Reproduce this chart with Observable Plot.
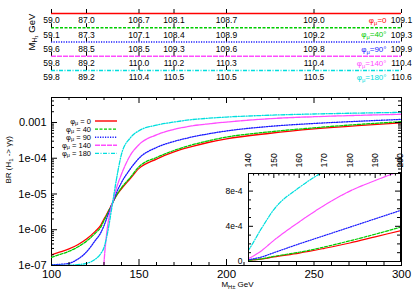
<!DOCTYPE html>
<html><head><meta charset="utf-8">
<script src="https://cdn.jsdelivr.net/npm/d3@7"></script>
<script src="https://cdn.jsdelivr.net/npm/@observablehq/plot@0.6"></script>
<style>
body{margin:0;background:#fff;}
#c{position:relative;width:414px;height:290px;font-family:"Liberation Sans",Arial,sans-serif;overflow:hidden;background:#fff;}
#c svg{position:absolute;left:0;}
</style></head><body><div id="c"></div>
<script>
// ---------- data ----------
const phiValues = ["0", "40", "90", "140", "180"];
// top panel: M_H1 (GeV) at these M_H± (GeV)
const topMasses = [100, 120, 150, 170, 200, 250, 300];
const mH1_phi0   = [59.0, 87.0, 106.7, 108.1, 108.7, 109.0, 109.1];
const mH1_phi40  = [59.1, 87.3, 107.1, 108.4, 108.9, 109.2, 109.3];
const mH1_phi90  = [59.6, 88.5, 108.5, 109.3, 109.6, 109.8, 109.9];
const mH1_phi140 = [59.8, 89.2, 110.0, 110.2, 110.3, 110.4, 110.4];
const mH1_phi180 = [59.8, 89.2, 110.4, 110.5, 110.5, 110.5, 110.6];

// main panel: BR(H1 -> gamma gamma) vs M_H±
const mass = [100,105,110,115,120,125,128,130,131,132,133,134,135,137,140,145,150,160,170,180,190,200,225,250,275,300];
const br_phi0   = [2.0e-7,2.4e-7,2.9e-7,3.8e-7,5.5e-7,9.0e-7,1.3e-6,2.0e-6,2.4e-6,3.0e-6,3.7e-6,4.6e-6,5.8e-6,8.8e-6,1.4e-5,2.7e-5,5.2e-5,9.5e-5,1.5e-4,2.1e-4,2.8e-4,3.5e-4,5.0e-4,6.6e-4,8.2e-4,9.8e-4];
const br_phi40  = [1.7e-7,2.05e-7,2.5e-7,3.3e-7,4.8e-7,8.0e-7,1.15e-6,1.8e-6,2.25e-6,2.8e-6,3.6e-6,4.5e-6,5.8e-6,9.0e-6,1.5e-5,2.9e-5,5.8e-5,1.05e-4,1.65e-4,2.35e-4,3.1e-4,3.9e-4,5.5e-4,7.1e-4,8.8e-4,1.05e-3];
const br_phi90  = [1.05e-7,1.08e-7,1.15e-7,1.5e-7,2.4e-7,5.0e-7,8.0e-7,1.3e-6,1.75e-6,2.4e-6,3.2e-6,4.3e-6,5.8e-6,1.05e-5,2.1e-5,5.0e-5,1.0e-4,2.0e-4,2.95e-4,3.9e-4,4.85e-4,5.8e-4,7.8e-4,9.4e-4,1.08e-3,1.22e-3];
const br_phi140 = [NaN,NaN,NaN,NaN,NaN,NaN,1e-9,1.2e-7,4.5e-7,1.2e-6,2.4e-6,4.0e-6,6.0e-6,1.4e-5,3.6e-5,1.2e-4,2.4e-4,4.5e-4,6.4e-4,8.0e-4,9.2e-4,1.03e-3,1.28e-3,1.45e-3,1.58e-3,1.7e-3];
const br_phi180 = [1.0e-7,1.0e-7,1.02e-7,1.06e-7,1.15e-7,1.5e-7,2.1e-7,3.2e-7,4.8e-7,8e-7,1.5e-6,3e-6,6e-6,2.4e-5,1.3e-4,3.7e-4,5.9e-4,8.4e-4,1.03e-3,1.2e-3,1.32e-3,1.42e-3,1.6e-3,1.73e-3,1.83e-3,1.92e-3];

// tick values / labels
const xMajor = [100, 150, 200, 250, 300];
const yMajor = [1e-7, 1e-6, 1e-5, 1e-4, 1e-3];
const yLabels = ["1e-07", "1e-06", "1e-05", "1e-04", "0.001"];
const insetXTicks = [140, 150, 160, 170, 180, 190, 200];
const insetYTicks = [0, 4e-4, 8e-4];
const insetYLabels = ["0", "4e-4", "8e-4"];

// ---------- styles ----------
const colors = ["#ff0000", "#00cc00", "#1a1aff", "#ff4dff", "#00dede"];
const dashes = ["none", "3,1.5", "1.2,1.3", "5,1", "4,1.5,1,1.5"];
const FONT = '"Liberation Sans", Arial, sans-serif';

const mH1 = [mH1_phi0, mH1_phi40, mH1_phi90, mH1_phi140, mH1_phi180];
const brs = [br_phi0, br_phi40, br_phi90, br_phi140, br_phi180];

const NS = "http://www.w3.org/2000/svg";
const c = document.getElementById("c");
function place(svg, top) { svg.style.top = top + "px"; c.appendChild(svg); }
// turn "a_{bc}d" / "a_bd" into tspans with subscripts
function subify(svg) {
  svg.querySelectorAll("text").forEach(t => {
    const s = t.textContent; if (s.indexOf("_") < 0) return;
    const fs = parseFloat(t.getAttribute("font-size") || t.parentNode.getAttribute("font-size") || 8);
    const parts = [];
    let i = 0, buf = "";
    while (i < s.length) {
      if (s[i] === "_") {
        if (buf) parts.push([buf, false]); buf = "";
        if (s[i + 1] === "{") { const j = s.indexOf("}", i); parts.push([s.slice(i + 2, j), true]); i = j + 1; }
        else { parts.push([s[i + 1], true]); i += 2; }
      } else { buf += s[i]; i++; }
    }
    if (buf) parts.push([buf, false]);
    t.textContent = "";
    let shifted = false;
    const sh = fs * 0.25;
    parts.forEach(([str, sub]) => {
      const sp = document.createElementNS(NS, "tspan");
      sp.textContent = str;
      if (sub && !shifted) { sp.setAttribute("dy", sh); shifted = true; }
      if (!sub && shifted) { sp.setAttribute("dy", -sh); shifted = false; }
      if (sub) sp.setAttribute("font-size", fs * 0.72);
      t.appendChild(sp);
    });
  });
}

// ---------- top panel ----------
{
  const marks = [];
  phiValues.forEach((p, i) => {
    const rows = topMasses.map((m, j) => ({m, v: mH1[i][j], row: i}));
    marks.push(Plot.ruleY([i], {y: d => d, x1: 100, x2: 300, stroke: colors[i], strokeWidth: 1.5, strokeDasharray: dashes[i]}));
    marks.push(Plot.ruleX(rows, {x: "m", y1: "row", y2: "row", insetTop: -4, stroke: "#000", strokeWidth: 1}));
    marks.push(Plot.text(rows, {x: "m", y: d => d.row + 0.5, text: d => d.v.toFixed(1), fontSize: 8.5, fill: "#000"}));
    marks.push(Plot.text([{m: 300, row: i, t: "φ_μ=" + p + (p === "0" ? "" : "°")}], {x: "m", y: d => d.row + 0.5, text: "t", dx: -15, textAnchor: "end", fontSize: 8, fill: colors[i]}));
  });
  marks.push(Plot.text(["M_{H₁} GeV"], {text: d => d, frameAnchor: "left", rotate: -90, textAnchor: "start", dx: -20, dy: 4.5, fontSize: 9.5, fill: "#000"}));
  const svg = Plot.plot({
    width: 414, height: 90, marginLeft: 51, marginRight: 13, marginTop: 13, marginBottom: 12,
    x: {domain: [100, 300], axis: null},
    y: {domain: [0, 4], range: [13, 70], axis: null},
    style: {background: "transparent", fontFamily: FONT, overflow: "visible"},
    marks
  });
  subify(svg);
  place(svg, 0);
}

// ---------- main panel ----------
{
  const xMinor = d3.range(110, 300, 10).filter(v => v % 50 !== 0);
  const yMinor = [];
  [1e-7, 1e-6, 1e-5, 1e-4, 1e-3].forEach(d => { for (let m = 2; m <= 9; m++) if (d * m <= 5e-3) yMinor.push(d * m); });
  const marks = [Plot.frame({stroke: "#000"})];
  phiValues.forEach((p, i) => {
    const rows = mass.map((m, j) => ({m, br: brs[i][j]}));
    marks.push(Plot.line(rows, {x: "m", y: "br", stroke: colors[i], strokeWidth: 1.3, strokeDasharray: dashes[i], curve: "monotone-x", clip: true}));
  });
  marks.push(
    Plot.ruleX(xMajor, {x: d => d, y1: 1e-7, y2: 1e-7, insetTop: -6, stroke: "#000"}),
    Plot.ruleX(xMinor, {x: d => d, y1: 1e-7, y2: 1e-7, insetTop: -3, stroke: "#000"}),
    Plot.ruleX(xMajor, {x: d => d, y1: 5e-3, y2: 5e-3, insetBottom: -6, stroke: "#000"}),
    Plot.ruleX(xMinor, {x: d => d, y1: 5e-3, y2: 5e-3, insetBottom: -3, stroke: "#000"}),
    Plot.ruleY(yMajor, {y: d => d, x1: 100, x2: 100, insetRight: -6, stroke: "#000"}),
    Plot.ruleY(yMinor, {y: d => d, x1: 100, x2: 100, insetRight: -3, stroke: "#000"}),
    Plot.ruleY(yMajor, {y: d => d, x1: 300, x2: 300, insetLeft: -6, stroke: "#000"}),
    Plot.ruleY(yMinor, {y: d => d, x1: 300, x2: 300, insetLeft: -3, stroke: "#000"}),
    Plot.text(xMajor, {x: d => d, y: 1e-7, dy: 9, text: d => String(d), fontSize: 11.5, fill: "#000"}),
    Plot.text(yMajor, {x: 100, y: d => d, dx: -5, textAnchor: "end", text: (d, i) => yLabels[i], fontSize: 11, fill: "#000"}),
    Plot.text(["BR (H_1 -> γγ)"], {text: d => d, frameAnchor: "left", rotate: -90, dx: -43, dy: 2, fontSize: 8, fill: "#000"}),
    Plot.text(["M_{H±} GeV"], {text: d => d, frameAnchor: "bottom", dx: 11, dy: 21, fontSize: 8, fill: "#000"})
  );
  const svg = Plot.plot({
    width: 414, height: 202, marginLeft: 51, marginRight: 13, marginTop: 9, marginBottom: 25,
    x: {domain: [100, 300], axis: null},
    y: {type: "log", domain: [1e-7, 5e-3], axis: null},
    style: {background: "transparent", fontFamily: FONT, overflow: "visible"},
    marks
  });
  subify(svg);
  place(svg, 88);
}

// ---------- inset ----------
{
  const xMinor = d3.range(142, 200, 2).filter(v => v % 10 !== 0);
  const yMinor = [1e-4, 2e-4, 3e-4, 5e-4, 6e-4, 7e-4, 9e-4];
  const marks = [Plot.frame({fill: "#fff", stroke: "none"})];
  phiValues.forEach((p, i) => {
    const rows = mass.map((m, j) => ({m, br: brs[i][j]})).filter(d => d.m >= 135 && d.m <= 210 && !isNaN(d.br));
    marks.push(Plot.line(rows, {x: "m", y: "br", stroke: colors[i], strokeWidth: 1.2, strokeDasharray: dashes[i], curve: "monotone-x", clip: true}));
  });
  marks.push(
    Plot.frame({stroke: "#000"}),
    Plot.ruleY(insetYTicks, {y: d => d, x1: 140, x2: 140, insetRight: -5, stroke: "#000"}),
    Plot.ruleY(yMinor, {y: d => d, x1: 140, x2: 140, insetRight: -3, stroke: "#000"}),
    Plot.ruleY(insetYTicks, {y: d => d, x1: 200, x2: 200, insetLeft: -5, stroke: "#000"}),
    Plot.ruleY(yMinor, {y: d => d, x1: 200, x2: 200, insetLeft: -3, stroke: "#000"}),
    Plot.ruleX(insetXTicks, {x: d => d, y1: 1e-3, y2: 1e-3, insetBottom: -5, stroke: "#000"}),
    Plot.ruleX(xMinor, {x: d => d, y1: 1e-3, y2: 1e-3, insetBottom: -2.5, stroke: "#000"}),
    Plot.text(insetYTicks, {x: 140, y: d => d, dx: -6, textAnchor: "end", text: (d, i) => insetYLabels[i], fontSize: 8.5, fill: "#000"}),
    Plot.text(insetXTicks, {x: d => d, y: 1e-3, dy: -6, rotate: -90, textAnchor: "start", text: d => String(d), fontSize: 8.5, fill: "#000"})
  );
  const svg = Plot.plot({
    width: 414, height: 125, marginLeft: 248, marginRight: 14, marginTop: 33, marginBottom: 4,
    x: {domain: [140, 200], axis: null},
    y: {domain: [0, 1e-3], axis: null},
    style: {background: "transparent", fontFamily: FONT, overflow: "visible"},
    marks
  });
  place(svg, 140);
}

// ---------- legend (overlay svg) ----------
{
  const ov = document.createElementNS(NS, "svg");
  ov.setAttribute("width", 414); ov.setAttribute("height", 290);
  ov.style.top = "0px"; ov.style.fontFamily = FONT; ov.style.pointerEvents = "none";
  phiValues.forEach((p, i) => {
    const y = 121 + i * 8.1;
    const t = document.createElementNS(NS, "text");
    t.setAttribute("x", 91); t.setAttribute("y", y + 2.5);
    t.setAttribute("text-anchor", "end"); t.setAttribute("font-size", 7.5); t.setAttribute("fill", "#000");
    t.innerHTML = `φ<tspan dy="1.5" font-size="5.5">μ</tspan><tspan dy="-1.5"> = ${p}</tspan>`;
    ov.appendChild(t);
    const l = document.createElementNS(NS, "line");
    l.setAttribute("x1", 95); l.setAttribute("x2", 117);
    l.setAttribute("y1", y); l.setAttribute("y2", y);
    l.setAttribute("stroke", colors[i]); l.setAttribute("stroke-width", 1.4);
    if (dashes[i] !== "none") l.setAttribute("stroke-dasharray", dashes[i]);
    ov.appendChild(l);
  });
  c.appendChild(ov);
}
</script></body></html>
